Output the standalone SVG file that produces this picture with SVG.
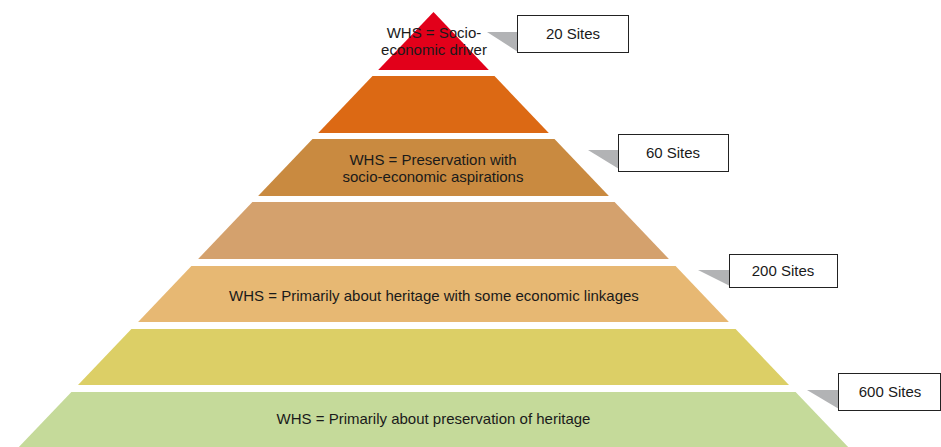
<svg xmlns="http://www.w3.org/2000/svg" width="941" height="447" viewBox="0 0 941 447">
  <style>
    .lbl { font-family: "Liberation Sans", Arial, sans-serif; font-size: 15px; fill: #1a1a1a; text-anchor: middle; }
    .box { fill: #ffffff; stroke: #222222; stroke-width: 1; }
    .tab { fill: #b2b3b5; }
  </style>
  <rect width="941" height="447" fill="#ffffff"/>

  <!-- pyramid tiers, top to bottom -->
  <g id="tier1">
    <polygon points="433.5,12 488.8,70 378.2,70" fill="#e2001a"/>
    <text class="lbl" x="434" y="38">WHS = Socio-</text>
    <text class="lbl" x="434" y="55">economic driver</text>
  </g>
  <g id="tier2">
    <polygon points="372.5,76 494.5,76 548.8,133 318.2,133" fill="#dc6914"/>
  </g>
  <g id="tier3">
    <polygon points="312.5,139 554.5,139 608.9,196 258.1,196" fill="#c98a40"/>
    <text class="lbl" x="433" y="165">WHS = Preservation with</text>
    <text class="lbl" x="433" y="182">socio-economic aspirations</text>
  </g>
  <g id="tier4">
    <polygon points="252.4,202 614.6,202 668.9,259 198.1,259" fill="#d4a16d"/>
  </g>
  <g id="tier5">
    <polygon points="191.4,266 675.6,266 728.9,322 138.1,322" fill="#e7b873"/>
    <text class="lbl" x="434" y="301">WHS = Primarily about heritage with some economic linkages</text>
  </g>
  <g id="tier6">
    <polygon points="131.4,329 735.6,329 789,385 78,385" fill="#dccf66"/>
  </g>
  <g id="tier7">
    <polygon points="71.4,392 795.6,392 851,450 16,450" fill="#c5da9a"/>
    <text class="lbl" x="433.5" y="424">WHS = Primarily about preservation of heritage</text>
  </g>

  <!-- site count callouts -->
  <g id="connectors">
    <polygon class="tab" points="487,32 518,32 518,52"/>
    <polygon class="tab" points="588,150 619,150 619,169"/>
    <polygon class="tab" points="698,270 730,270 730,286"/>
    <polygon class="tab" points="807,390 839,390 839,409"/>
  </g>
  <g id="count20">
    <rect class="box" x="517.5" y="15.5" width="111" height="37"/>
    <text class="lbl" x="573" y="39">20 Sites</text>
  </g>
  <g id="count60">
    <rect class="box" x="618.5" y="134.5" width="110" height="37"/>
    <text class="lbl" x="673" y="158">60 Sites</text>
  </g>
  <g id="count200">
    <rect class="box" x="729.5" y="254.5" width="108" height="33"/>
    <text class="lbl" x="783" y="276">200 Sites</text>
  </g>
  <g id="count600">
    <rect class="box" x="838.5" y="373.5" width="102" height="37"/>
    <text class="lbl" x="890" y="397">600 Sites</text>
  </g>
</svg>
